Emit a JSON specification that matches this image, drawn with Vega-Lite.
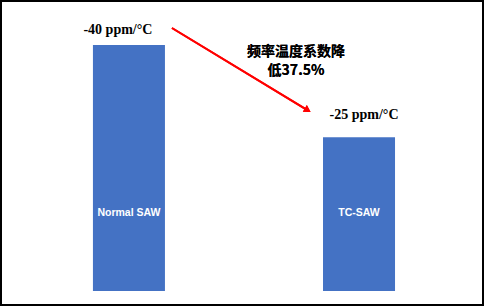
{
  "$schema": "https://vega.github.io/schema/vega-lite/v6.json",
  "width": 484,
  "height": 307,
  "autosize": {"type": "fit", "contains": "padding"},
  "padding": {"left": 1, "top": 1, "right": 1, "bottom": 2},
  "background": "white",
  "config": {"view": {"stroke": "#000000", "strokeWidth": 2}},
  "data": {"values": [
    {"category": "Normal SAW", "value": 40, "label": "-40 ppm/°C"},
    {"category": "TC-SAW", "value": 25, "label": "-25 ppm/°C"}
  ]},
  "layer": [
    {
      "mark": {"type": "bar", "color": "#4472C4"},
      "encoding": {
        "x": {"field": "category", "type": "nominal", "sort": null, "axis": null,
              "scale": {"domain": ["Normal SAW", "TC-SAW"], "paddingInner": 0.687, "paddingOuter": 0.391, "align": 0.511}},
        "y": {"field": "value", "type": "quantitative", "axis": null,
              "scale": {"domain": [-2.28, 47.15], "nice": false, "zero": false}}
      }
    },
    {
      "transform": [{"filter": "datum.category === 'Normal SAW'"}],
      "mark": {"type": "text", "font": "Liberation Serif", "fontWeight": "bold", "fontSize": 14, "baseline": "alphabetic", "dx": -11, "dy": -11, "color": "#000000"},
      "encoding": {
        "x": {"field": "category", "type": "nominal"},
        "y": {"field": "value", "type": "quantitative"},
        "text": {"field": "label"}
      }
    },
    {
      "transform": [{"filter": "datum.category === 'TC-SAW'"}],
      "mark": {"type": "text", "font": "Liberation Serif", "fontWeight": "bold", "fontSize": 14, "baseline": "alphabetic", "dx": 5, "dy": -18, "color": "#000000"},
      "encoding": {
        "x": {"field": "category", "type": "nominal"},
        "y": {"field": "value", "type": "quantitative"},
        "text": {"field": "label"}
      }
    },
    {
      "mark": {"type": "text", "font": "Liberation Sans", "fontWeight": "bold", "fontSize": 10.5, "baseline": "middle", "color": "#FFFFFF"},
      "encoding": {
        "x": {"field": "category", "type": "nominal"},
        "y": {"datum": 12.7},
        "text": {"field": "category"}
      }
    },
    {
      "mark": {"type": "rule", "color": "#FF0000", "strokeWidth": 2, "xOffset": 43, "x2Offset": -50.4},
      "encoding": {
        "x": {"datum": "Normal SAW"},
        "x2": {"datum": "TC-SAW"},
        "y": {"datum": 42.76},
        "y2": {"datum": 29.3}
      }
    },
    {
      "mark": {"type": "point", "shape": "triangle-right", "filled": true, "color": "#FF0000", "size": 60, "angle": 31.3, "xOffset": -51.3, "opacity": 1},
      "encoding": {
        "x": {"datum": "TC-SAW"},
        "y": {"datum": 29.4}
      }
    },
    {
      "mark": {"type": "text", "font": "Noto Sans CJK SC", "fontWeight": "bold", "fontSize": 14, "baseline": "middle", "align": "center", "lineHeight": 19, "xOffset": -63, "color": "#000000",
               "text": ["频率温度系数降", "低37.5%"]},
      "encoding": {
        "x": {"datum": "TC-SAW"},
        "y": {"datum": 38.83}
      }
    }
  ]
}
